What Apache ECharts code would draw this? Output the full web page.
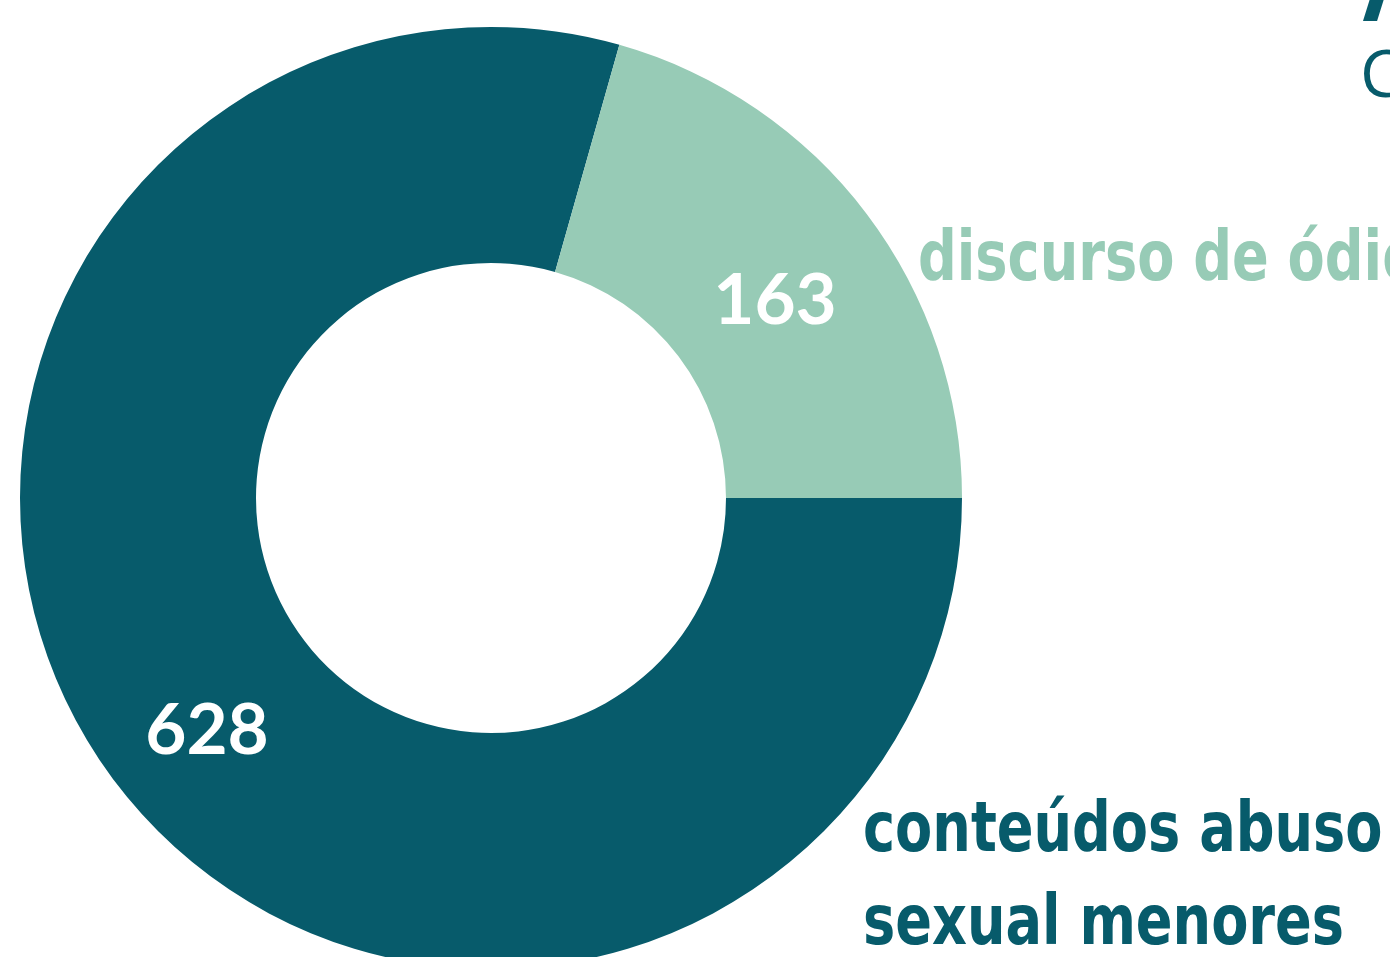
<!DOCTYPE html>
<html><head><meta charset="utf-8">
<script src="https://cdn.jsdelivr.net/npm/echarts@6/dist/echarts.min.js"></script>
<style>html,body{margin:0;padding:0;background:#fff}#c{width:1390px;height:957px}</style>
</head><body><div id="c"></div>
<script>
const categories = ['conteúdos abuso\nsexual menores', 'discurso de ódio'];
const values = [628, 163];
const colors = ['#075B6B', '#97CBB6'];
const titleFragments = ['/', 'C'];

const chart = echarts.init(document.getElementById('c'), null, {renderer: 'canvas'});
const labelFont = '"DejaVu Sans Condensed", "DejaVu Sans", sans-serif';
chart.setOption({
  animation: false,
  series: [{
    type: 'pie',
    center: [491, 498],
    radius: [235, 471],
    startAngle: 0,
    clockwise: true,
    avoidLabelOverlap: false,
    itemStyle: {borderWidth: 0},
    label: {
      show: true,
      position: 'inside',
      formatter: '{c}',
      color: '#fff',
      fontFamily: 'Lato, sans-serif',
      fontWeight: 'bold',
      fontSize: 71
    },
    labelLayout: {dy: 18},
    labelLine: {show: false},
    emphasis: {disabled: true},
    data: categories.map((n, i) => ({name: n, value: values[i], itemStyle: {color: colors[i]}}))
  }],
  graphic: [
    {type: 'text', left: 918, top: 227, scaleX: 0.86, style: {text: categories[1], fill: colors[1], font: 'bold 70px ' + labelFont}},
    {type: 'text', left: 863, top: 786, scaleX: 0.86, style: {text: categories[0], fill: colors[0], font: 'bold 70px ' + labelFont, lineHeight: 93}},
    {type: 'text', left: 1363, top: -90, style: {text: titleFragments[0], fill: colors[0], font: 'bold 130px "DejaVu Sans", sans-serif'}},
    {type: 'text', left: 1360, top: 45, style: {text: titleFragments[1], fill: colors[0], font: '66px "Open Sans", sans-serif'}}
  ]
});
</script></body></html>
